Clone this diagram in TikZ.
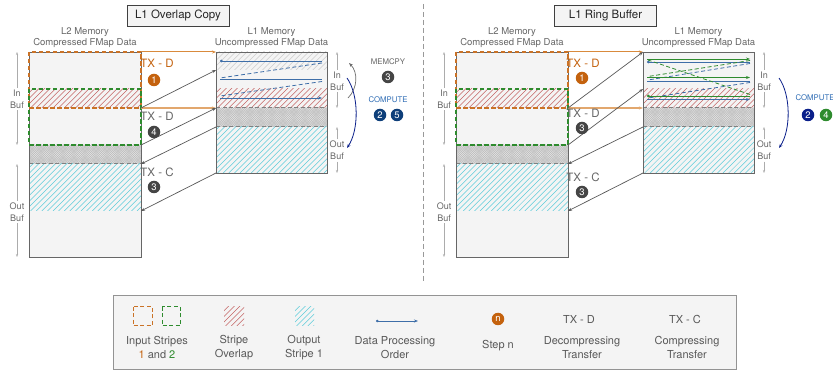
\documentclass[tikz,border=0pt]{standalone}
\usepackage{fontspec}
\setmainfont{TeX Gyre Heros}
\usetikzlibrary{arrows.meta}

\definecolor{panel}{HTML}{F4F4F4}
\definecolor{edge}{HTML}{666666}
\definecolor{ink}{HTML}{666666}
\definecolor{stripeA}{HTML}{C4620E}
\definecolor{stripeAline}{HTML}{D98A3C}
\definecolor{stripeB}{HTML}{2E8B2E}
\definecolor{overlap}{HTML}{C46464}
\definecolor{outhatch}{HTML}{5CCCDA}
\definecolor{flow}{HTML}{3E6EA8}
\definecolor{navy}{HTML}{0A1F8A}
\definecolor{stepgray}{HTML}{454545}
\definecolor{computeblue}{HTML}{2F6DB5}
\definecolor{stepblue}{HTML}{0E3F7A}

\tikzset{
  lbl/.style={font=\fontsize{9.5}{11}\selectfont, text=ink, align=center, inner sep=0pt},
  buflbl/.style={font=\fontsize{9}{12}\selectfont, text=ink, align=center, inner sep=1.5pt},
  txlbl/.style={font=\fontsize{11.5}{13}\selectfont, text=ink, inner sep=0pt},
  oplbl/.style={font=\fontsize{7.8}{9}\selectfont, text=ink, inner sep=0pt},
  leglbl/.style={font=\fontsize{11}{14}\selectfont, text=black!65, align=center, inner sep=0pt},
  stepdot/.style={circle, fill=#1, text=white, minimum size=12.5pt, inner sep=0pt,
    font=\fontsize{9.5}{9.5}\selectfont},
  titlebox/.style={draw=black!75, fill=panel, line width=0.8pt, text=black!85,
    font=\fontsize{11.5}{13}\selectfont, minimum width=102pt, minimum height=21pt, inner sep=0pt},
  memedge/.style={draw=edge, line width=0.9pt},
  hatchline/.style={draw=#1, line width=0.5pt},
  fineline/.style={draw=gray!55, line width=0.3pt},
  rowsep/.style={draw=gray, line width=1pt, dash pattern=on 4pt off 2.5pt},
  stripeone/.style={draw=stripeA!90, line width=1.2pt, dash pattern=on 4.5pt off 2.5pt},
  stripetwo/.style={draw=stripeB, line width=1.2pt, dash pattern=on 4.5pt off 2.5pt},
  tip/.style={-{Stealth[length=4pt,width=3pt]}},
  buftip/.style={-{Stealth[length=3pt,width=2.2pt]}},
  bufline/.style={draw=gray!65, line width=0.5pt, buftip},
  xfer/.style={draw=stepgray!90, line width=0.7pt, tip},
  decA/.style={draw=stripeAline, line width=1pt, tip},
  decB/.style={draw=stripeAline!75, line width=1.8pt, tip},
  flowline/.style={draw=#1, line width=0.8pt},
  flowgap/.style={draw=#1, line width=0.8pt, dash pattern=on 4pt off 2.5pt},
  flowstart/.style={{Circle[length=2.6pt]}-},
  flowend/.style={-{Stealth[length=4pt,width=3pt]}},
  flowboth/.style={{Circle[length=2.6pt]}-{Stealth[length=4pt,width=3pt]}},
  divider/.style={draw=gray!80, line width=0.8pt, dash pattern=on 5pt off 3pt},
}

% diagonal hatching of a box: corners (#1,#2) and (#3,#4), line colour #5
\newcommand{\hatchbox}[5]{%
  \begin{scope}
    \clip (#1,#2) rectangle (#3,#4);
    \foreach \k in {0,5.6,...,185}
      \draw[hatchline=#5] ({#1-60+\k},#4) -- ++(70,-70);
  \end{scope}}

% fine cross-hatched grey band
\newcommand{\shadebox}[4]{%
  \fill[gray!22] (#1,#2) rectangle (#3,#4);
  \begin{scope}
    \clip (#1,#2) rectangle (#3,#4);
    \foreach \k in {0,2.2,...,142}{
      \draw[fineline] ({#1-25+\k},#4) -- ++(30,-30);
      \draw[fineline] ({#1-25+\k},#2) -- ++(30,30);
    }
  \end{scope}}

% L2 and L1 memory columns with their buffer markers and the compressing transfers
\newcommand{\memcolumns}{%
  % L2 memory column
  \fill[panel] (29,52) rectangle (141,257);
  \hatchbox{29}{89}{141}{108}{overlap}
  \shadebox{29}{145}{141}{164}
  \hatchbox{29}{164}{141}{211}{outhatch}
  \draw[rowsep] (29,164) -- (141,164);
  \draw[memedge] (29,52) rectangle (141,257);
  \draw[stripeone] (29,52) rectangle (141,108);
  \draw[stripetwo] (29,89) rectangle (141,145);
  \node[lbl] (l2head) at (85,37.5) {L2 Memory\\Compressed FMap Data};
  % L1 memory column
  \fill[panel] (216,52) rectangle (327,173);
  \hatchbox{216}{89}{327}{108}{overlap}
  \shadebox{216}{108}{327}{127}
  \hatchbox{216}{127}{327}{173}{outhatch}
  \draw[rowsep] (216,108) -- (327,108) (216,127) -- (327,127);
  \node[lbl] (l1head) at (271.5,37.5) {L1 Memory\\Uncompressed FMap Data};
  % buffer extents
  \coordinate (l2in-top) at (17,52);  \coordinate (l2in-bot) at (17,145);
  \coordinate (l2out-top) at (17,164); \coordinate (l2out-bot) at (17,257);
  \coordinate (l1in-top) at (337,52); \coordinate (l1in-bot) at (337,108);
  \coordinate (l1out-top) at (337,127); \coordinate (l1out-bot) at (337,173);
  \node[buflbl] (l2in) at (17,99) {In\\Buf};
  \node[buflbl] (l2out) at (17,212) {Out\\Buf};
  \node[buflbl] (l1in) at (337,81) {In\\Buf};
  \node[buflbl] (l1out) at (337,150.5) {Out\\Buf};
  \foreach \b in {l2in,l2out,l1in,l1out}{
    \draw[bufline] (\b.north) -- (\b-top);
    \draw[bufline] (\b.south) -- (\b-bot);
  }
  % transfer anchors
  \coordinate (l2-a) at (141,52);  \coordinate (l1-a) at (216,52);
  \coordinate (l2-b) at (141,108); \coordinate (l1-b) at (216,108);
  \coordinate (l2-c) at (141,145);
  \coordinate (l1-oa) at (216,127); \coordinate (l2-oa) at (141,164);
  \coordinate (l1-ob) at (216,173); \coordinate (l2-ob) at (141,211);
  % stripe input windows
  \draw[decA] (l2-a) -- (l1-a);
  \draw[decB] (l2-b) -- (l1-b);
  % compressing transfers back to L2
  \draw[xfer] (l1-oa) -- (l2-oa);
  \draw[xfer] (l1-ob) -- (l2-ob);
}

\begin{document}
\begin{tikzpicture}[x=1pt,y=-1pt]
\useasboundingbox (0,0) rectangle (833,371);
\fill[white] (0,0) rectangle (833,371);

% ---------------- L1 overlap copy ----------------
\begin{scope}[name prefix=A-]
  \node[titlebox] (title) at (178,15.5) {L1 Overlap Copy};
  \memcolumns
  \hatchbox{216}{52}{327}{70}{gray!40}
  \draw[memedge] (216,52) rectangle (327,173);
  \coordinate (l1-r1) at (216,70);
  \draw[xfer] (l2-b) -- (l1-r1);
  \draw[xfer] (l2-c) -- (l1-b);
  % processing order inside L1
  \draw[flowline=flow, flowstart] (220,61) -- (322,61);
  \draw[flowgap=flow] (322,63) -- (220,78);
  \draw[flowline=flow] (220,79.5) -- (322,79.5);
  \draw[flowgap=flow] (322,81.5) -- (220,96);
  \draw[flowline=flow, flowend] (220,98) -- (322,98);
  % step labels
  \node[txlbl, text=stripeA] (txd1) at (157,63) {TX - D};
  \node[stepdot=stripeA] (s1) at (154,80) {1};
  \node[txlbl] (txd2) at (157,116) {TX - D};
  \node[stepdot=stepgray] (s4) at (154,132) {4};
  \node[txlbl] (txc) at (157,172) {TX - C};
  \node[stepdot=stepgray] (s3) at (154,187) {3};
  % memcpy and compute
  \coordinate (mc-from) at (348,98); \coordinate (mc-to) at (349,63);
  \draw[draw=gray!85!black, line width=0.7pt, tip] (mc-from) .. controls (358,88) and (358,72) .. (mc-to);
  \coordinate (cp-from) at (347,78); \coordinate (cp-to) at (347,148);
  \draw[draw=navy, line width=0.8pt, tip] (cp-from) .. controls (359,95) and (359,130) .. (cp-to);
  \node[oplbl] (memcpy) at (388,62) {MEMCPY};
  \node[stepdot=stepgray] (m3) at (388,77) {3};
  \node[oplbl, text=computeblue] (compute) at (388,100) {COMPUTE};
  \node[stepdot=stepblue] (c2) at (380,115) {2};
  \node[stepdot=stepblue] (c5) at (397,115) {5};
\end{scope}

% divider
\coordinate (div-top) at (423,4);
\coordinate (div-bot) at (423,282);
\draw[divider] (div-top) -- (div-bot);

% ---------------- L1 ring buffer ----------------
\begin{scope}[xshift=427pt, name prefix=B-]
  \node[titlebox] (title) at (178.5,15.5) {L1 Ring Buffer};
  \memcolumns
  \draw[memedge] (216,52) rectangle (327,173);
  \coordinate (l1-r3) at (216,89);
  \draw[xfer] (l2-b) -- (l1-a);
  \draw[xfer] (l2-c) -- (l1-r3);
  % processing order of stripe 1 (blue)
  \draw[flowline=flow, flowstart] (220,62) -- (323,62);
  \draw[flowgap=flow] (323,63.5) -- (221,80);
  \draw[flowline=flow] (220,81) -- (323,81);
  \draw[flowgap=flow] (323,82.5) -- (221,98);
  \draw[flowline=flow, flowend] (220,99.5) -- (323,99.5);
  % processing order of stripe 2 (green)
  \draw[flowline=stripeB, flowstart] (220,96) -- (323,96);
  \draw[flowgap=stripeB] (323,94.5) -- (221,60);
  \draw[flowline=stripeB, flowend] (220,59) -- (323,59);
  \draw[flowgap=stripeB] (323,60.5) -- (221,76.5);
  \draw[flowline=stripeB, flowend] (220,77.5) -- (323,77.5);
  % step labels
  \node[txlbl, text=stripeA] (txd1) at (156,63) {TX - D};
  \node[stepdot=stripeA] (s1) at (155,78) {1};
  \node[txlbl] (txd2) at (156,113) {TX - D};
  \node[stepdot=stepgray] (s3a) at (155,128) {3};
  \node[txlbl] (txc) at (156,177) {TX - C};
  \node[stepdot=stepgray] (s3b) at (155,192) {3};
  % compute
  \coordinate (cp-from) at (352,78); \coordinate (cp-to) at (352,148);
  \draw[draw=navy, line width=0.8pt, tip] (cp-from) .. controls (364,95) and (364,130) .. (cp-to);
  \node[oplbl, text=computeblue] (compute) at (388,98) {COMPUTE};
  \node[stepdot=navy] (c2) at (381,115) {2};
  \node[stepdot=stripeB] (c4) at (399,115) {4};
\end{scope}

% ---------------- legend ----------------
\node[draw=gray!85, fill=panel, line width=0.9pt, minimum width=623pt, minimum height=74.5pt, inner sep=0pt]
  (legend) at (424.5,332.5) {};
\draw[stripeone, line width=1pt, dash pattern=on 4pt off 2.5pt] (133,307) rectangle (152,326);
\draw[stripetwo, line width=1pt, dash pattern=on 4pt off 2.5pt] (162,307) rectangle (180,326);
\node[leglbl] (lg-in) at (157,347.5) {Input Stripes\\{\color{stripeA}1} and {\color{stripeB}2}};
\hatchbox{224}{307}{244}{326}{overlap}
\node[leglbl] (lg-ov) at (234,347.5) {Stripe\\Overlap};
\hatchbox{295}{307}{314}{326}{outhatch}
\node[leglbl] (lg-out) at (304,347.5) {Output\\Stripe 1};
\coordinate (lg-f0) at (376,321); \coordinate (lg-f1) at (418,321);
\draw[flowline=flow, flowboth, line width=0.7pt] (lg-f0) -- (lg-f1);
\node[leglbl] (lg-fl) at (395,347.5) {Data Processing\\Order};
\node[stepdot=stripeA] (lg-n) at (498,319) {n};
\node[leglbl] (lg-step) at (498,346) {Step n};
\node[leglbl] (lg-txd) at (579,319) {TX - D};
\node[leglbl] (lg-dec) at (582,347.5) {Decompressing\\Transfer};
\node[leglbl] (lg-txc) at (685,319) {TX - C};
\node[leglbl] (lg-com) at (687,347.5) {Compressing\\Transfer};
\end{tikzpicture}
\end{document}
